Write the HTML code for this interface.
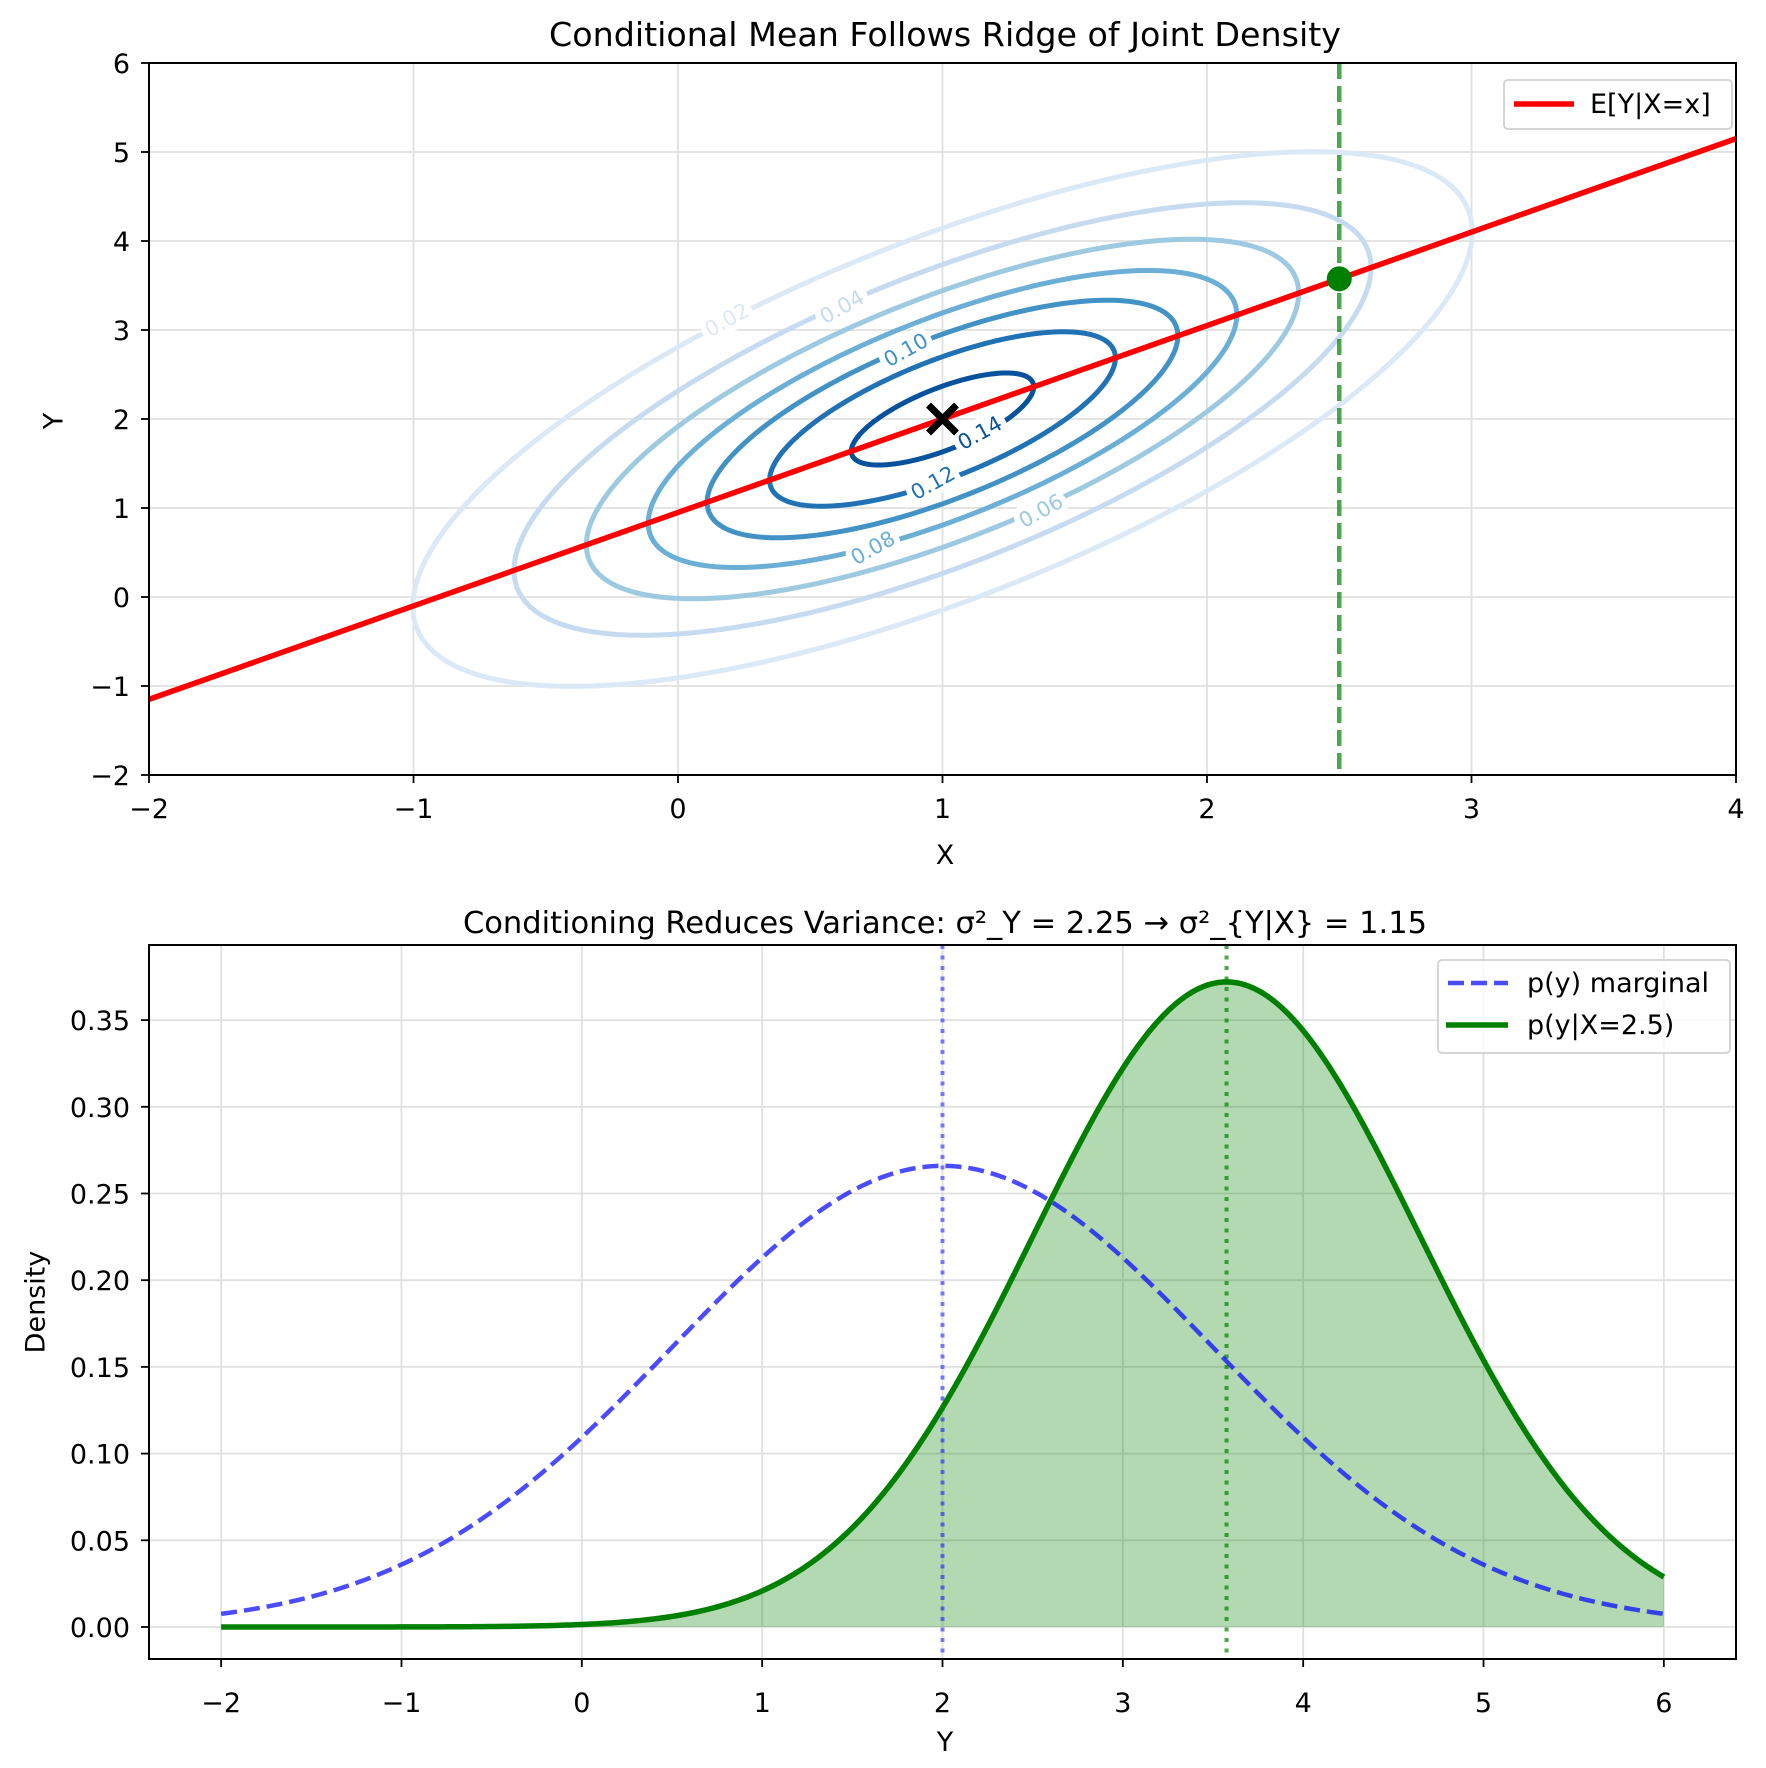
<!DOCTYPE html>
<html><head><meta charset="utf-8"><style>
html,body{margin:0;padding:0;background:#fff}
svg{display:block}
text{font-family:"DejaVu Sans","Liberation Sans",sans-serif;fill:#000}
</style></head><body>
<svg id="s" width="1766" height="1768" viewBox="0 0 1766 1768" xmlns="http://www.w3.org/2000/svg"></svg>
<script>
const S=document.getElementById('s');let h='';
function tx(v){return 149+(v+2)*264.5}
function ty(v){return 63+(6-v)*89}
function bx(v){return 149+(v+2.4)*(1587/8.8)}
function by(v){return 1627-v*1734}
function f(n){return n.toFixed(2)}
const FS=27;
h+='<rect x="149" y="63" width="1587" height="712" fill="#fff"/>';
for(let x=-2;x<=4;x++)h+=`<line x1="${f(tx(x))}" y1="63" x2="${f(tx(x))}" y2="775" stroke="#e0e0e0" stroke-width="1.8"/>`;
for(let y=-2;y<=6;y++)h+=`<line x1="149" y1="${f(ty(y))}" x2="1736" y2="${f(ty(y))}" stroke="#e0e0e0" stroke-width="1.8"/>`;
h+='<defs><clipPath id="c1"><rect x="149" y="63" width="1587" height="712"/></clipPath><clipPath id="c2"><rect x="149" y="945" width="1587" height="714"/></clipPath></defs><g clip-path="url(#c1)">';
const pk=1/(2*Math.PI*Math.sqrt(1.1475));
const lv=[0.02,0.04,0.06,0.08,0.10,0.12,0.14];
const col=['#dbe9f6','#c6dbef','#9ecae1','#6baed6','#4292c6','#2171b5','#08519c'];
lv.forEach((c,i)=>{const r=Math.sqrt(2*Math.log(pk/c));let d='';for(let k=0;k<=200;k++){const t=k/200*2*Math.PI;const dx=r*Math.cos(t);const dy=1.05*r*Math.cos(t)+1.0712*r*Math.sin(t);d+=(k?'L':'M')+f(tx(1+dx))+' '+f(ty(2+dy));}
h+=`<path d="${d}" fill="none" stroke="${col[i]}" stroke-width="5"/>`;});
const labs=[['0.02',727,320,0],['0.04',842,307,1],['0.10',906,350,4],['0.14',980,433,6],['0.12',933,483,5],['0.08',873,548,3],['0.06',1041,511,2]];
labs.forEach(l=>{h+=`<text x="${l[1]}" y="${l[2]}" transform="rotate(-29 ${l[1]} ${l[2]})" font-size="21" text-anchor="middle" dominant-baseline="central" style="paint-order:stroke;stroke:#fff;stroke-width:12;fill:${col[l[3]]}">${l[0]}</text>`;});
h+=`<line x1="${tx(-2)}" y1="${f(ty(-1.15))}" x2="${tx(4)}" y2="${f(ty(5.15))}" stroke="#ff0000" stroke-width="5.5"/>`;
h+=`<line x1="${f(tx(2.5))}" y1="63" x2="${f(tx(2.5))}" y2="775" stroke="green" stroke-opacity="0.7" stroke-width="4.5" stroke-dasharray="16,7"/>`;
h+=`<circle cx="${f(tx(2.5))}" cy="${f(ty(3.575))}" r="12.5" fill="green"/>`;
const cx=tx(1),cy=ty(2);
h+=`<path d="M${cx-14} ${cy-14}L${cx+14} ${cy+14}M${cx-14} ${cy+14}L${cx+14} ${cy-14}" stroke="#000" stroke-width="7"/>`;
h+='</g>';
h+='<rect x="149" y="63" width="1587" height="712" fill="none" stroke="#000" stroke-width="2"/>';
for(let x=-2;x<=4;x++){h+=`<line x1="${f(tx(x))}" y1="775" x2="${f(tx(x))}" y2="783" stroke="#000" stroke-width="1.8"/><text x="${f(tx(x))}" y="818" font-size="${FS}" text-anchor="middle">${x<0?'−'+(-x):x}</text>`;}
for(let y=-2;y<=6;y++){h+=`<line x1="141" y1="${f(ty(y))}" x2="149" y2="${f(ty(y))}" stroke="#000" stroke-width="1.8"/><text x="130" y="${f(ty(y)+10)}" font-size="${FS}" text-anchor="end">${y<0?'−'+(-y):y}</text>`;}
h+='<text x="945" y="864" font-size="27" text-anchor="middle">X</text>';
h+='<text x="54" y="421" font-size="27" text-anchor="middle" transform="rotate(-90 54 421)" dominant-baseline="central">Y</text>';
h+='<text x="945" y="46" font-size="33.3" text-anchor="middle">Conditional Mean Follows Ridge of Joint Density</text>';
h+='<rect x="1504" y="80" width="228" height="49" rx="4" fill="#fff" fill-opacity="0.8" stroke="#d0d0d0" stroke-width="1.8"/>';
h+='<line x1="1514" y1="104" x2="1574" y2="104" stroke="#ff0000" stroke-width="5.5"/><text x="1590" y="113" font-size="27">E[Y|X=x]</text>';
for(let x=-2;x<=6;x++)h+=`<line x1="${f(bx(x))}" y1="945" x2="${f(bx(x))}" y2="1659" stroke="#e0e0e0" stroke-width="1.8"/>`;
for(let k=0;k<=7;k++){const v=k*0.05;h+=`<line x1="149" y1="${f(by(v))}" x2="1736" y2="${f(by(v))}" stroke="#e0e0e0" stroke-width="1.8"/>`;}
h+='<g clip-path="url(#c2)">';
function pdf(y,m,s){return Math.exp(-0.5*((y-m)/s)**2)/(s*Math.sqrt(2*Math.PI))}
const sc=Math.sqrt(1.15);let dm='',dc='',fill='';
for(let k=0;k<=400;k++){const y=-2+8*k/400;dm+=(k?'L':'M')+f(bx(y))+' '+f(by(pdf(y,2,1.5)));dc+=(k?'L':'M')+f(bx(y))+' '+f(by(pdf(y,3.575,sc)));}
fill=dc+`L${f(bx(6))} ${f(by(0))}L${f(bx(-2))} ${f(by(0))}Z`;
h+=`<path d="${fill}" fill="green" fill-opacity="0.3"/>`;
h+=`<line x1="${f(bx(2))}" y1="945" x2="${f(bx(2))}" y2="1659" stroke="#0000ff" stroke-opacity="0.5" stroke-width="4" stroke-dasharray="4,6.5"/>`;
h+=`<line x1="${f(bx(3.575))}" y1="945" x2="${f(bx(3.575))}" y2="1659" stroke="green" stroke-opacity="0.7" stroke-width="4" stroke-dasharray="4,6.5"/>`;
h+=`<path d="${dm}" fill="none" stroke="#0000ff" stroke-opacity="0.7" stroke-width="4.5" stroke-dasharray="16,7"/>`;
h+=`<path d="${dc}" fill="none" stroke="green" stroke-width="5.5"/>`;
h+='</g>';
h+='<rect x="149" y="945" width="1587" height="714" fill="none" stroke="#000" stroke-width="2"/>';
for(let x=-2;x<=6;x++){h+=`<line x1="${f(bx(x))}" y1="1659" x2="${f(bx(x))}" y2="1667" stroke="#000" stroke-width="1.8"/><text x="${f(bx(x))}" y="1712" font-size="${FS}" text-anchor="middle">${x<0?'−'+(-x):x}</text>`;}
for(let k=0;k<=7;k++){const v=k*0.05;h+=`<line x1="141" y1="${f(by(v))}" x2="149" y2="${f(by(v))}" stroke="#000" stroke-width="1.8"/><text x="130" y="${f(by(v)+10)}" font-size="${FS}" text-anchor="end">${v.toFixed(2)}</text>`;}
h+='<text x="945" y="1751" font-size="27" text-anchor="middle">Y</text>';
h+='<text x="36" y="1302" font-size="27" text-anchor="middle" transform="rotate(-90 36 1302)" dominant-baseline="central">Density</text>';
h+='<text x="945" y="933" font-size="30.5" text-anchor="middle">Conditioning Reduces Variance: σ²_Y = 2.25 → σ²_{Y|X} = 1.15</text>';
h+='<rect x="1438" y="960" width="292" height="93" rx="4" fill="#fff" fill-opacity="0.8" stroke="#d0d0d0" stroke-width="1.8"/>';
h+='<line x1="1448" y1="983" x2="1508" y2="983" stroke="#0000ff" stroke-opacity="0.7" stroke-width="4.5" stroke-dasharray="16,7"/><text x="1527" y="992" font-size="27">p(y) marginal</text>';
h+='<line x1="1446" y1="1025" x2="1508" y2="1025" stroke="green" stroke-width="5.5"/><text x="1527" y="1034" font-size="27">p(y|X=2.5)</text>';
S.innerHTML=h;
</script>
</body></html>
